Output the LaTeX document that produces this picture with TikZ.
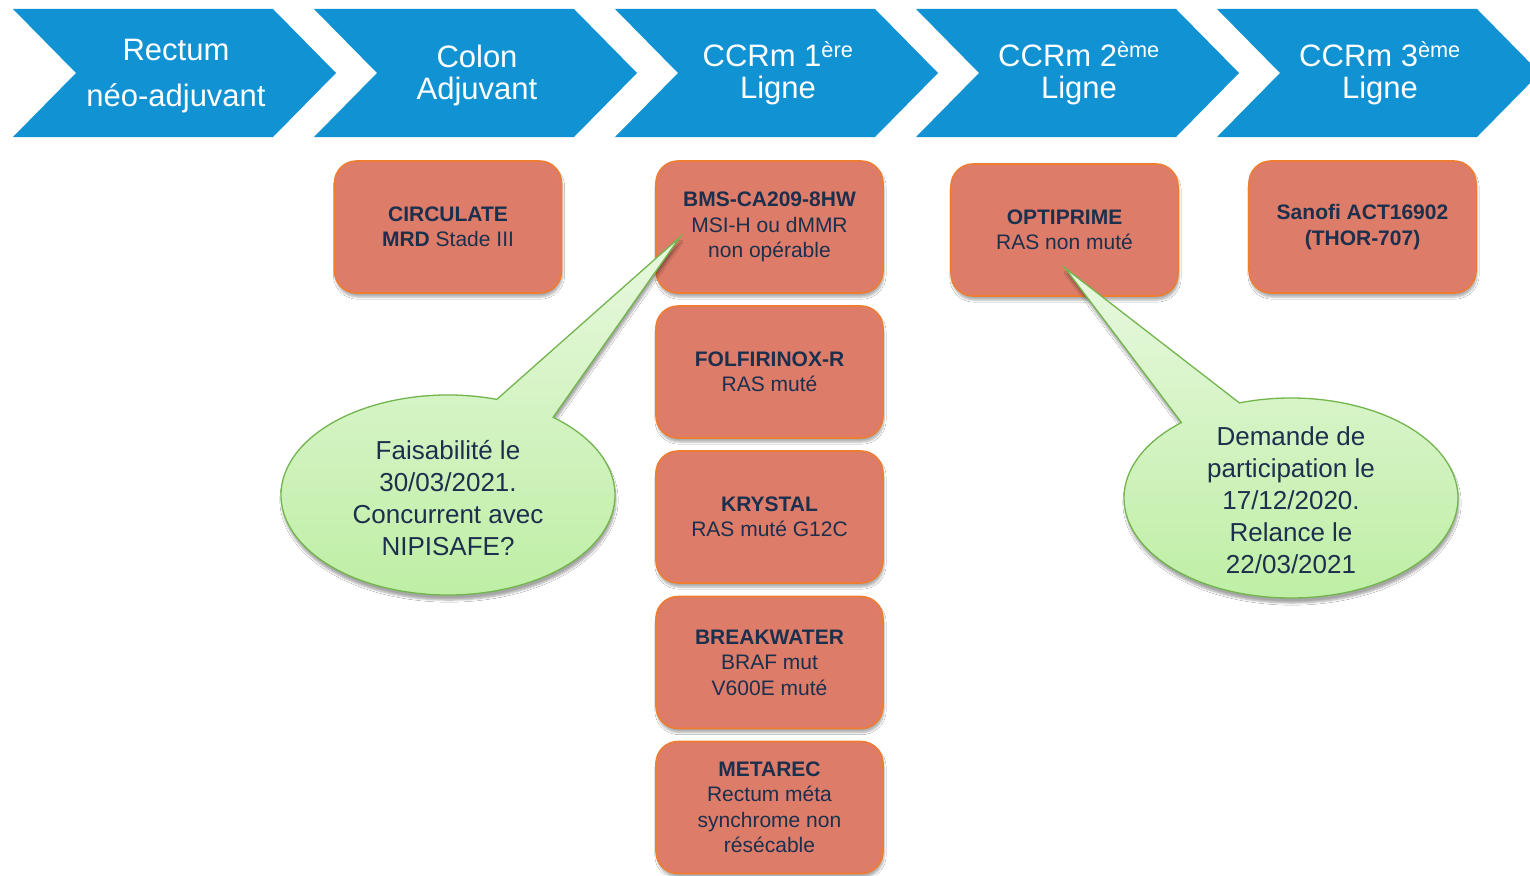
\documentclass[tikz,border=0pt]{standalone}
\usepackage{fontspec}
\setmainfont{Liberation Sans}
\usetikzlibrary{calc,shadows.blur}
\definecolor{chevblue}{HTML}{1193D3}
\definecolor{boxfill}{HTML}{DD7C69}
\definecolor{boxline}{HTML}{EE7D32}
\definecolor{navy}{HTML}{1C2F4D}
\definecolor{calloutline}{HTML}{72B54C}
\definecolor{callouttop}{HTML}{E8F8DF}
\definecolor{calloutbot}{HTML}{BDEEA3}
\begin{document}
\begin{tikzpicture}[x=1pt,y=-1pt,
  chevron/.style={fill=chevblue},
  chevtext/.style={text=white,align=center,font=\fontsize{31}{32}\selectfont},
  trial/.style={draw=boxline,line width=1.6pt,fill=boxfill,rounded corners=22pt,
    minimum width=227pt,minimum height=132pt,align=center,text=navy,inner sep=0pt,
    font=\fontsize{21}{25.5}\selectfont,
    blur shadow={shadow xshift=1pt,shadow yshift=-4pt,shadow blur steps=6,shadow opacity=32}},
  callout/.style={draw=calloutline,line width=1.3pt,top color=callouttop,bottom color=calloutbot,
    blur shadow={shadow xshift=1pt,shadow yshift=-5pt,shadow blur steps=6,shadow opacity=35}},
  callouttext/.style={text=navy,align=center,font=\fontsize{26}{32}\selectfont}
]
\useasboundingbox (0,0) rectangle (1530,875);
\fill[white] (0,0) rectangle (1530,875);

% process chevrons along the top
\begin{scope}
\clip (0,0) rectangle (1530,875);
\foreach \i in {0,...,4}{
  \pgfmathsetmacro{\xo}{13+301*\i}
  \fill[chevron] (\xo,9) -- ++(260,0) -- ++(63,64) -- ++(-63,64) -- ++(-260,0) -- ++(63,-64) -- cycle;
}
\end{scope}
\node[chevtext] (chev1) at (176,76) {Rectum\\[14pt]néo-adjuvant};
\node[chevtext] (chev2) at (477,75) {Colon\\Adjuvant};
\node[chevtext] (chev3) at (778,73) {CCRm 1\textsuperscript{ère}\\Ligne};
\node[chevtext] (chev4) at (1079,73) {CCRm 2\textsuperscript{ème}\\Ligne};
\node[chevtext] (chev5) at (1380,73) {CCRm 3\textsuperscript{ème}\\Ligne};

% trials
\node[trial] (circ) at (448,227) {\textbf{CIRCULATE}\\\textbf{MRD} Stade III};
\node[trial] (bms) at (769.5,227) {\textbf{BMS-CA209-8HW}\\MSI-H ou dMMR\\non opérable};
\node[trial] (folf) at (769.5,372) {\textbf{FOLFIRINOX-R}\\RAS muté};
\node[trial] (kry) at (769.5,517) {\textbf{KRYSTAL}\\RAS muté G12C};
\node[trial] (brk) at (769.5,662.5) {\textbf{BREAKWATER}\\BRAF mut\\ V600E muté};
\node[trial] (meta) at (769.5,807.5) {\textbf{METAREC}\\Rectum méta\\synchrome non\\résécable};
\node[trial] (opti) at (1064.5,230) {\textbf{OPTIPRIME}\\RAS non muté};
\node[trial] (sano) at (1362.5,227) {\textbf{Sanofi ACT16902}\\\textbf{(THOR-707)}};

% callouts pointing at their trials
\coordinate (tip1) at ($(bms.center)+(-89.5,10)$);
\coordinate (tip2) at ($(opti.center)+(0.5,38)$);
\path[callout] (448,495) ++(73:167pt and 100pt)
  arc[start angle=73,end angle=411,x radius=167pt,y radius=100pt] -- (tip1) -- cycle;
\path[callout] (1291,498) ++(131:167pt and 100pt)
  arc[start angle=131,end angle=468,x radius=167pt,y radius=100pt] -- (tip2) -- cycle;
\node[callouttext] (note1) at (448,498) {Faisabilité le\\30/03/2021.\\Concurrent avec\\NIPISAFE?};
\node[callouttext] (note2) at (1291,500) {Demande de\\participation le\\17/12/2020.\\Relance le\\22/03/2021};
\end{tikzpicture}
\end{document}
